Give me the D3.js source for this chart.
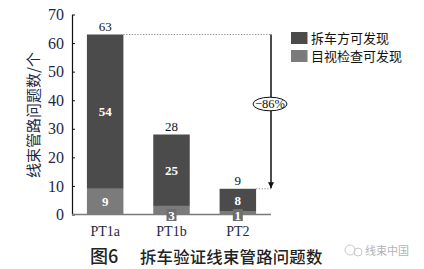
<!DOCTYPE html>
<html>
<head>
<meta charset="utf-8">
<script src="https://cdn.jsdelivr.net/npm/d3@7/dist/d3.min.js"></script>
<style>
  html, body { margin: 0; padding: 0; background: #fff; }
  svg { display: block; }
</style>
</head>
<body>
<svg id="chart" width="424" height="269"></svg>
<script>
// Wiring-harness routing issues found per test phase
const categories = ["PT1a", "PT1b", "PT2"];
const visualFound = [9, 3, 1];        // 目视检查可发现
const teardownFound = [54, 25, 8];    // 拆车方可发现
const totals = [63, 28, 9];
const yTicks = [0, 10, 20, 30, 40, 50, 60, 70];
const seriesNames = ["拆车方可发现", "目视检查可发现"];
const reductionLabel = "−86%";
const yLabel = "线束管路问题数/个";
const captionNo = "图6";
const captionText = "拆车验证线束管路问题数";

const colors = { teardown: "#4b4b4b", visual: "#7b7b7b" };
const serif = "'Liberation Serif', 'DejaVu Serif', serif";
const cjk = "'Noto Sans CJK SC', sans-serif";
const ink = "#1d2845";

const svg = d3.select("#chart");

const x = d3.scaleBand().domain(categories).range([72, 271]).paddingInner(0.45).paddingOuter(0.225);
const y = d3.scaleLinear().domain([0, 70]).range([214.5, 14.5]);

// stacked data
const rows = categories.map((c, i) => ({ cat: c, visual: visualFound[i], teardown: teardownFound[i], total: totals[i] }));
const stack = d3.stack().keys(["visual", "teardown"])(rows);

// bars
svg.append("g").selectAll("g").data(stack).join("g")
  .attr("fill", d => colors[d.key])
  .selectAll("rect").data(d => d).join("rect")
  .attr("x", d => x(d.data.cat))
  .attr("width", x.bandwidth())
  .attr("y", d => y(d[1]))
  .attr("height", d => y(d[0]) - y(d[1]));

// y axis with inward ticks
const yAxis = svg.append("g").attr("transform", "translate(72,0)")
  .call(d3.axisLeft(y).tickValues(yTicks).tickSizeInner(-3).tickSizeOuter(0).tickPadding(8));
yAxis.select(".domain").attr("stroke", "#111").attr("stroke-width", 1.2);
yAxis.selectAll(".tick line").attr("stroke", "#111");
yAxis.selectAll(".tick text").attr("font-family", serif).attr("font-size", 16).attr("fill", ink);

// baseline
svg.append("line")
  .attr("x1", 72).attr("x2", 271)
  .attr("y1", y(0)).attr("y2", y(0))
  .attr("stroke", "#7a7a7a").attr("stroke-width", 1.3);

// category labels
svg.append("g").selectAll("text").data(categories).join("text")
  .attr("x", d => x(d) + x.bandwidth() / 2)
  .attr("y", 236)
  .attr("text-anchor", "middle")
  .attr("font-family", serif).attr("font-size", 14).attr("fill", ink)
  .text(d => d);

// totals above bars
svg.append("g").selectAll("text").data(rows).join("text")
  .attr("x", d => x(d.cat) + x.bandwidth() / 2)
  .attr("y", d => y(d.total) - 4)
  .attr("text-anchor", "middle")
  .attr("font-family", serif).attr("font-size", 13).attr("fill", "#111")
  .text(d => d.total);

// segment value labels (small segments sit on the baseline with a backing patch)
const segLabels = [];
stack.forEach(s => s.forEach(d => segLabels.push({ key: s.key, cat: d.data.cat, lo: d[0], hi: d[1], v: d[1] - d[0] })));
const segG = svg.append("g");
segLabels.forEach(d => {
  const cx = x(d.cat) + x.bandwidth() / 2;
  const small = d.v <= 3;
  const cy = small ? y(0) + 0.5 : y((d.lo + d.hi) / 2);
  if (small) {
    segG.append("rect")
      .attr("x", cx - 5).attr("y", cy - 6)
      .attr("width", 10).attr("height", 12)
      .attr("fill", "#6e6e6e");
  }
  segG.append("text")
    .attr("x", cx).attr("y", cy)
    .attr("dy", "0.35em")
    .attr("text-anchor", "middle")
    .attr("font-family", serif).attr("font-size", 13).attr("font-weight", "bold")
    .attr("fill", "#fff")
    .text(d.v);
});

// reduction annotation: dotted guides + arrow
const ax = 271;
const first = rows[0], last = rows[rows.length - 1];
svg.append("line")
  .attr("x1", x(first.cat) + x.bandwidth()).attr("x2", ax)
  .attr("y1", y(first.total)).attr("y2", y(first.total))
  .attr("stroke", "#888").attr("stroke-width", 1).attr("stroke-dasharray", "1.2,1.6");
svg.append("line")
  .attr("x1", x(last.cat) + x.bandwidth()).attr("x2", ax)
  .attr("y1", y(last.total)).attr("y2", y(last.total))
  .attr("stroke", "#888").attr("stroke-width", 1).attr("stroke-dasharray", "1.2,1.6");

svg.append("defs").append("marker")
  .attr("id", "arrowhead").attr("viewBox", "0 0 10 10")
  .attr("refX", 10).attr("refY", 5)
  .attr("markerWidth", 6).attr("markerHeight", 6)
  .attr("markerUnits", "userSpaceOnUse")
  .attr("orient", "auto")
  .append("path").attr("d", "M0,0 L10,5 L0,10 z").attr("fill", "#111");

svg.append("line")
  .attr("x1", ax).attr("x2", ax)
  .attr("y1", y(first.total)).attr("y2", y(last.total) - 0.5)
  .attr("stroke", "#111").attr("stroke-width", 1.5)
  .attr("marker-end", "url(#arrowhead)");

const ey = 104;
svg.append("ellipse")
  .attr("cx", ax - 1).attr("cy", ey).attr("rx", 17).attr("ry", 6.8)
  .attr("fill", "#fff").attr("stroke", "#111").attr("stroke-width", 1);
svg.append("text")
  .attr("x", ax - 1).attr("y", ey).attr("dy", "0.35em")
  .attr("text-anchor", "middle")
  .attr("font-family", serif).attr("font-size", 12.5).attr("fill", "#111")
  .text(reductionLabel);

// legend
const legend = svg.append("g").attr("transform", "translate(291,32)");
const legendColors = [colors.teardown, colors.visual];
seriesNames.forEach((name, i) => {
  const g = legend.append("g").attr("transform", `translate(0,${i * 18})`);
  g.append("rect").attr("width", 16.5).attr("height", 12).attr("fill", legendColors[i]);
  g.append("text")
    .attr("x", 20).attr("y", 6).attr("dy", "0.36em")
    .attr("font-family", cjk).attr("font-size", 13).attr("fill", "#111")
    .text(name);
});

// y axis title
svg.append("text")
  .attr("transform", "translate(34,115) rotate(-90)")
  .attr("text-anchor", "middle").attr("dy", "0.36em")
  .attr("font-family", cjk).attr("font-size", 15).attr("fill", ink)
  .text(yLabel);

// caption
svg.append("text")
  .attr("x", 90).attr("y", 263)
  .attr("font-family", cjk).attr("font-size", 18).attr("font-weight", 500).attr("fill", "#222")
  .text(captionNo);
svg.append("text")
  .attr("x", 140).attr("y", 263)
  .attr("font-family", cjk).attr("font-size", 16.4).attr("font-weight", 500)
  .attr("letter-spacing", 0.2).attr("fill", "#222")
  .text(captionText);

// source mark
const mark = svg.append("g").attr("transform", "translate(356,251)").attr("opacity", 0.45);
mark.append("circle").attr("cx", -6).attr("cy", -1).attr("r", 5).attr("fill", "none").attr("stroke", "#888").attr("stroke-width", 1);
mark.append("circle").attr("cx", 2).attr("cy", 1).attr("r", 4).attr("fill", "none").attr("stroke", "#888").attr("stroke-width", 1);
mark.append("text")
  .attr("x", 9).attr("y", 0).attr("dy", "0.35em")
  .attr("font-family", cjk).attr("font-size", 11).attr("fill", "#555")
  .text("线束中国");
</script>
</body>
</html>
